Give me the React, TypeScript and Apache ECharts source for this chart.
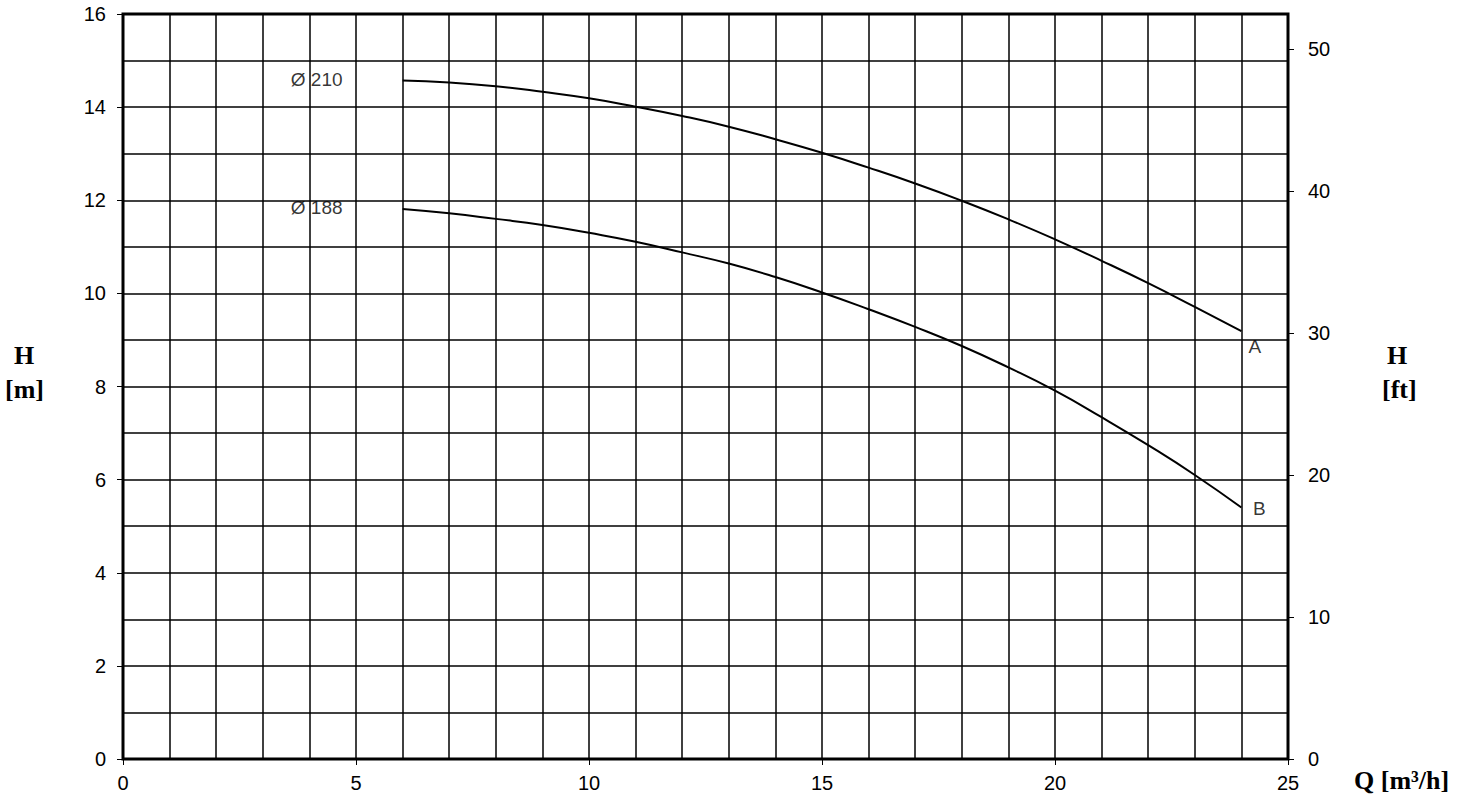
import React, { useEffect, useRef } from "react";
import * as echarts from "echarts";

const flowQ = [6, 7, 8, 9, 10, 11, 12, 13, 14, 15, 16, 17, 18, 19, 20, 21, 22, 23, 24];
const headA = [14.57, 14.53, 14.45, 14.33, 14.19, 14.01, 13.81, 13.58, 13.31, 13.02, 12.7, 12.36, 11.99, 11.59, 11.16, 10.7, 10.22, 9.71, 9.19];
const headB = [11.81, 11.72, 11.6, 11.47, 11.3, 11.11, 10.88, 10.64, 10.35, 10.02, 9.66, 9.28, 8.87, 8.41, 7.91, 7.34, 6.74, 6.1, 5.4];
const curveLabels = [
  { text: "Ø 210", q: 3.6, h: 14.6 },
  { text: "Ø 188", q: 3.6, h: 11.85 },
  { text: "A", q: 24.15, h: 8.85 },
  { text: "B", q: 24.25, h: 5.37 },
];
const M_TO_FT = 3.28084;

export default function App() {
  const ref = useRef<HTMLDivElement>(null);
  useEffect(() => {
    if (!ref.current) return;
    const chart = echarts.init(ref.current, null, { renderer: "svg" });
    const tickFont = { fontFamily: "Liberation Sans, Arial, sans-serif", fontSize: 20, color: "#000" };
    const titleFont = "bold 26px 'Liberation Serif', 'Times New Roman', serif";
    chart.setOption({
      animation: false,
      backgroundColor: "#fff",
      grid: { left: 123, top: 14, right: 196, bottom: 45, show: true, borderColor: "#000", borderWidth: 3, backgroundColor: "transparent" },
      xAxis: {
        type: "value",
        min: 0,
        max: 25,
        interval: 5,
        axisLine: { show: false },
        axisTick: { show: true, length: 6, lineStyle: { color: "#000", width: 1 } },
        axisLabel: { ...tickFont, margin: 14 },
        splitLine: { show: true, lineStyle: { color: "#000", width: 1.5 } },
        minorTick: { show: false, splitNumber: 5 },
        minorSplitLine: { show: true, lineStyle: { color: "#000", width: 1.5 } },
      },
      yAxis: [
        {
          type: "value",
          min: 0,
          max: 16,
          interval: 2,
          axisLine: { show: false },
          axisTick: { show: true, length: 6, lineStyle: { color: "#000", width: 1 } },
          axisLabel: { ...tickFont, margin: 17 },
          splitLine: { show: true, lineStyle: { color: "#000", width: 1.5 } },
          minorTick: { show: false, splitNumber: 2 },
          minorSplitLine: { show: true, lineStyle: { color: "#000", width: 1.5 } },
        },
        {
          type: "value",
          position: "right",
          min: 0,
          max: 16 * M_TO_FT,
          interval: 10,
          axisLine: { show: false },
          axisTick: { show: true, length: 6, lineStyle: { color: "#000", width: 1 } },
          axisLabel: { ...tickFont, margin: 20, showMaxLabel: false, formatter: (v: number) => (v > 50 ? "" : String(v)) },
          splitLine: { show: false },
        },
      ],
      graphic: [
        { type: "text", left: 14, top: 342, style: { text: "H", font: titleFont, fill: "#000" } },
        { type: "text", left: 5, top: 376, style: { text: "[m]", font: titleFont, fill: "#000" } },
        { type: "text", left: 1387, top: 342, style: { text: "H", font: titleFont, fill: "#000" } },
        { type: "text", left: 1382, top: 376, style: { text: "[ft]", font: titleFont, fill: "#000" } },
        { type: "text", left: 1354, top: 767, style: { text: "Q [m³/h]", font: titleFont, fill: "#000" } },
      ],
      series: [
        {
          type: "line",
          data: flowQ.map((q, i) => [q, headA[i]]),
          smooth: true,
          showSymbol: false,
          lineStyle: { color: "#000", width: 2 },
        },
        {
          type: "line",
          data: flowQ.map((q, i) => [q, headB[i]]),
          smooth: true,
          showSymbol: false,
          lineStyle: { color: "#000", width: 2 },
        },
        {
          type: "scatter",
          symbolSize: 0,
          itemStyle: { color: "#000" },
          data: curveLabels.map((l) => ({ value: [l.q, l.h], name: l.text })),
          label: {
            show: true,
            position: "right",
            distance: 0,
            formatter: (p: any) => p.name,
            fontFamily: "Liberation Sans, Arial, sans-serif",
            fontSize: 19,
            color: "#000",
          },
        },
      ],
    });
    return () => chart.dispose();
  }, []);
  return <div ref={ref} style={{ position: "fixed", left: 0, top: 0, width: 1484, height: 804 }} />;
}
